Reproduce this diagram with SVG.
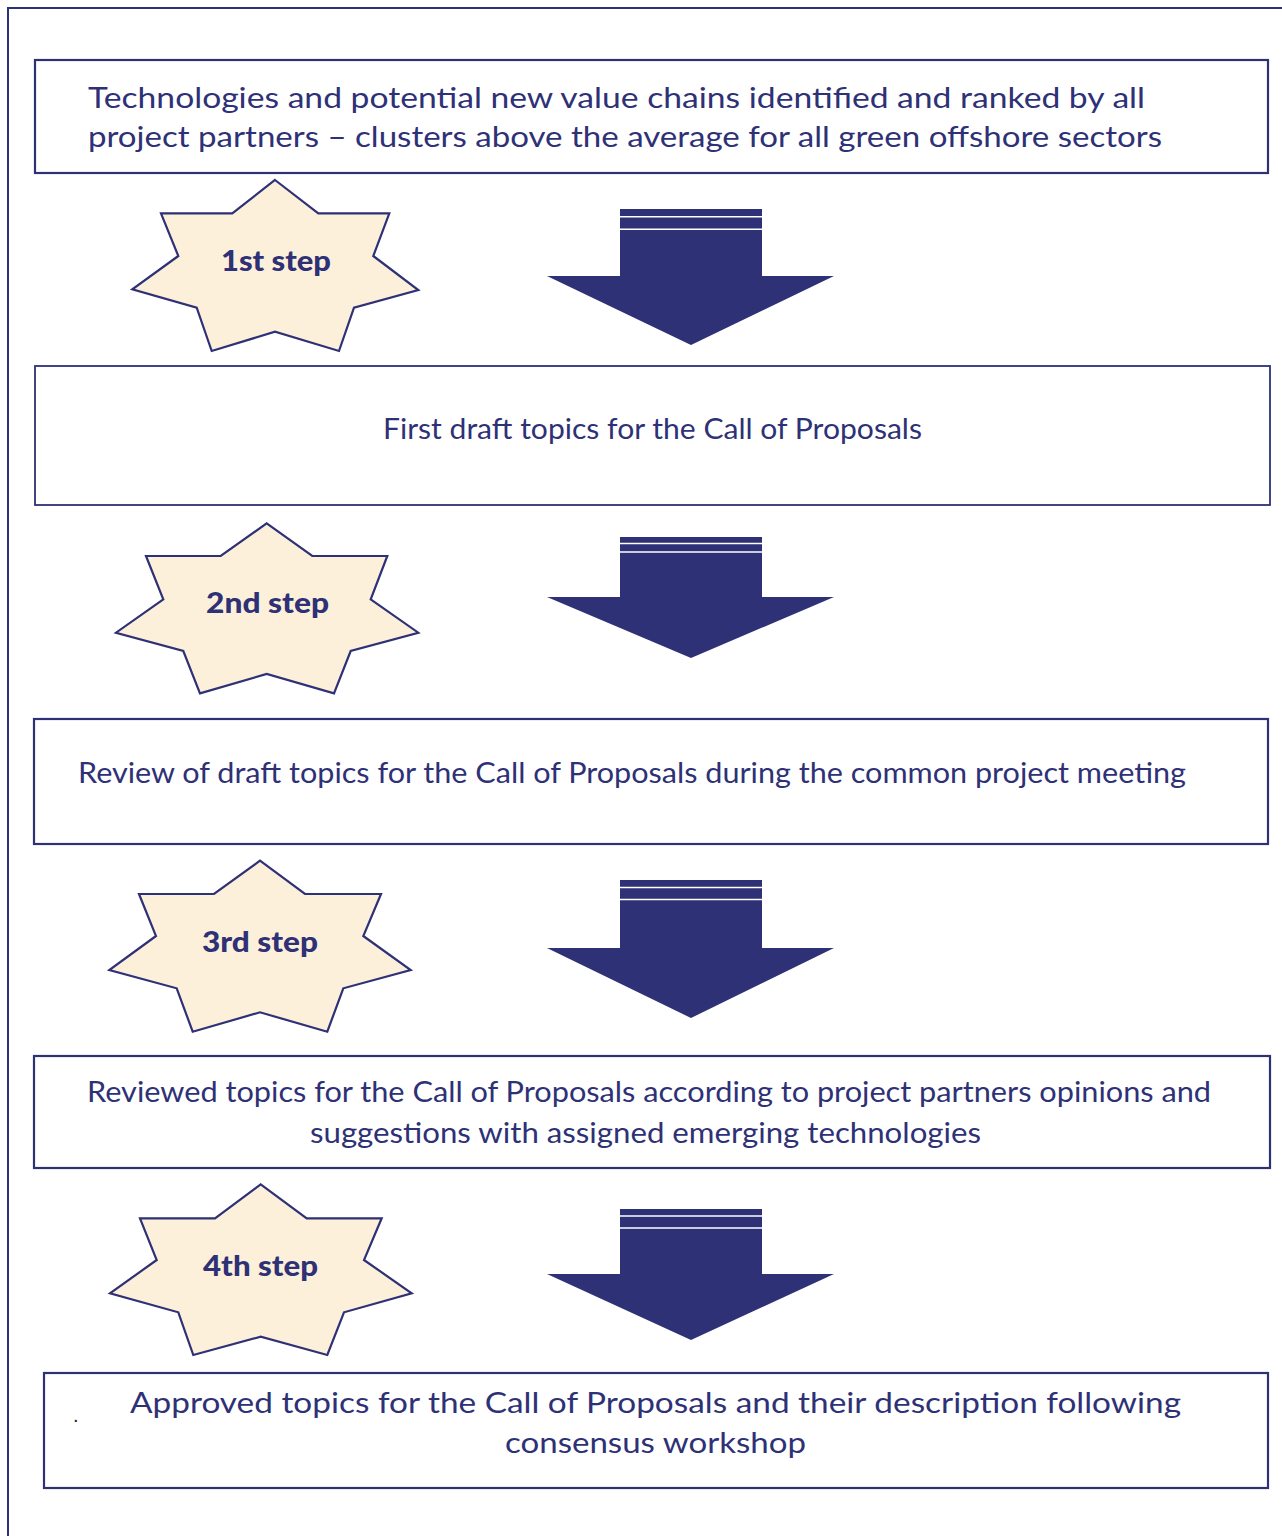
<svg xmlns="http://www.w3.org/2000/svg" width="1282" height="1536" viewBox="0 0 1282 1536">
<style>
.frame{fill:none;stroke:#2e3176;stroke-width:2}
.box{fill:#ffffff;stroke:#2e3176;stroke-width:2.2}
.star{fill:#fdf0da;stroke:#2e3176;stroke-width:2.2;stroke-linejoin:miter}
.arrow{fill:#2e3176}
.gap{stroke:#ffffff;stroke-width:1.5}
.t{font-family:Lato,"Liberation Sans",sans-serif;font-size:29px;font-weight:400;fill:#2e3176}
.s{font-family:Lato,"Liberation Sans",sans-serif;font-size:29px;font-weight:900;fill:#2e3176}
.dot{font-family:"Liberation Sans",sans-serif;font-size:20px;fill:#222222}
</style>
<rect width="1282" height="1536" fill="#ffffff"/>
<path class="frame" d="M8,1536 V8 H1282"/>

<g id="box1">
<rect class="box" x="35" y="60" width="1233" height="113"/>
<text class="t" x="88" y="108" textLength="1057" lengthAdjust="spacingAndGlyphs">Technologies and potential new value chains identified and ranked by all</text>
<text class="t" x="88" y="147" textLength="1074" lengthAdjust="spacingAndGlyphs">project partners – clusters above the average for all green offshore sectors</text>
</g>

<g id="step1">
<polygon class="star" points="275,180 318.3,213.3 389.3,213.3 373.3,256 418.3,290 354,307.7 339,351 275,331.7 211.7,351 196.7,307.7 132.3,289.3 178.3,256 161,213.3 232.3,213.3"/>
<text class="s" x="221" y="271" textLength="110" lengthAdjust="spacingAndGlyphs">1st step</text>
</g>

<g id="box2">
<rect class="box" x="35" y="366" width="1235" height="139" style="stroke-width:1.8"/>
<text class="t" x="383" y="439" textLength="539" lengthAdjust="spacingAndGlyphs">First draft topics for the Call of Proposals</text>
</g>

<g id="step2">
<polygon class="star" points="266.7,523.3 312.3,556 387.3,556 370.7,599.3 418.3,632.7 350.7,651 334,693.3 266.7,674 200,693.3 183.3,651 116,632.7 163.3,599.3 146,556 220.7,556"/>
<text class="s" x="206" y="613" textLength="123" lengthAdjust="spacingAndGlyphs">2nd step</text>
</g>

<g id="box3">
<rect class="box" x="34" y="719" width="1234" height="125"/>
<text class="t" x="78" y="783" textLength="1108" lengthAdjust="spacingAndGlyphs">Review of draft topics for the Call of Proposals during the common project meeting</text>
</g>

<g id="step3">
<polygon class="star" points="260,860.7 305,894 381,894 363.3,936 410.7,970 343.3,988.3 327.3,1031.7 260,1012.3 192.7,1031.7 176.7,988.3 109.3,970 156,936 139,894 214,894"/>
<text class="s" x="202" y="952" textLength="116" lengthAdjust="spacingAndGlyphs">3rd step</text>
</g>

<g id="box4">
<rect class="box" x="34" y="1056" width="1236" height="112"/>
<text class="t" x="87" y="1102" textLength="1124" lengthAdjust="spacingAndGlyphs">Reviewed topics for the Call of Proposals according to project partners opinions and</text>
<text class="t" x="310" y="1143" textLength="671" lengthAdjust="spacingAndGlyphs">suggestions with assigned emerging technologies</text>
</g>

<g id="step4">
<polygon class="star" points="260.7,1184.3 306.7,1218.3 381.7,1218.3 364,1260 411.7,1293.3 344,1312.3 327.3,1355 260.7,1336.7 193.3,1355 178.3,1312.3 110,1293.3 156.7,1260 140,1218.3 215,1218.3"/>
<text class="s" x="203" y="1276" textLength="115" lengthAdjust="spacingAndGlyphs">4th step</text>
</g>

<g id="box5">
<rect class="box" x="44" y="1373" width="1224" height="115"/>
<text class="dot" x="73" y="1422">.</text>
<text class="t" x="130" y="1413" textLength="1051" lengthAdjust="spacingAndGlyphs">Approved topics for the Call of Proposals and their description following</text>
<text class="t" x="505" y="1453" textLength="301" lengthAdjust="spacingAndGlyphs">consensus workshop</text>
</g>

<g id="connectors">
<g id="arrow1">
<polygon class="arrow" points="620,209 762,209 762,276 834,276 691,345 547,276 620,276"/>
<line class="gap" x1="620" y1="216.7" x2="762" y2="216.7"/>
<line class="gap" x1="620" y1="229.3" x2="762" y2="229.3"/>
</g>
<g id="arrow2">
<polygon class="arrow" points="620,537 762,537 762,597 834,597 691,658 547,597 620,597"/>
<line class="gap" x1="620" y1="543.5" x2="762" y2="543.5"/>
<line class="gap" x1="620" y1="552" x2="762" y2="552"/>
</g>
<g id="arrow3">
<polygon class="arrow" points="620,880 762,880 762,948 834,948 691,1018 547,948 620,948"/>
<line class="gap" x1="620" y1="887.5" x2="762" y2="887.5"/>
<line class="gap" x1="620" y1="899.5" x2="762" y2="899.5"/>
</g>
<g id="arrow4">
<polygon class="arrow" points="620,1209 762,1209 762,1274 834,1274 691,1340 547,1274 620,1274"/>
<line class="gap" x1="620" y1="1216" x2="762" y2="1216"/>
<line class="gap" x1="620" y1="1228" x2="762" y2="1228"/>
</g>
</g>
</svg>
